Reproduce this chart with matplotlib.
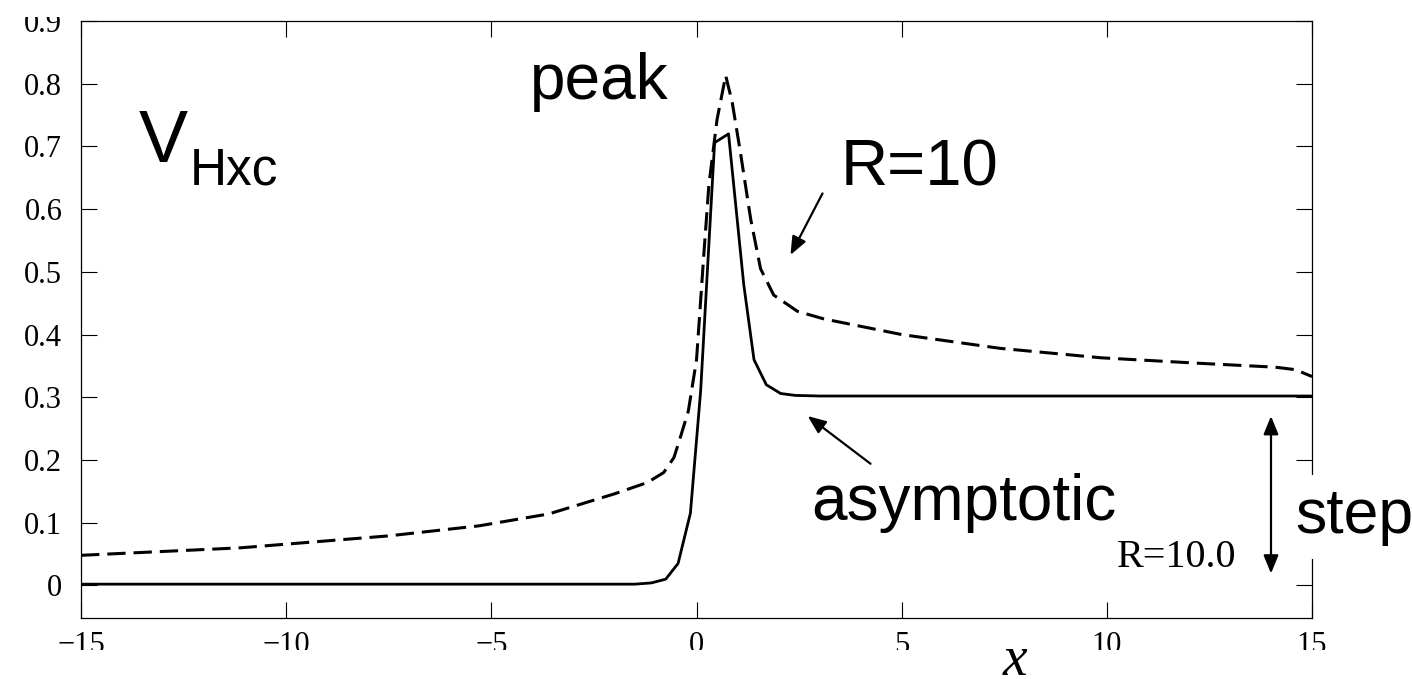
"""V_Hxc potential for R=10: exact curve vs. asymptotic approximation."""
import matplotlib
matplotlib.use("Agg")
import matplotlib.pyplot as plt
from matplotlib.patches import Rectangle

# dashed curve (labelled R=10 / peak)
x_peak = [-15, -11.1, -7.5, -5.3, -3.6, -2.0, -1.2, -0.8, -0.55, -0.4, -0.2, 0.0,
          0.18, 0.3, 0.5, 0.71, 0.87, 1.07, 1.32, 1.56, 1.88, 2.46, 3.1, 5.0,
          7.4, 9.85, 12.3, 14.1, 14.6, 15]
v_peak = [0.048, 0.060, 0.079, 0.095, 0.114, 0.146, 0.164, 0.18, 0.204, 0.235,
          0.278, 0.36, 0.53, 0.638, 0.743, 0.813, 0.77, 0.69, 0.584, 0.505,
          0.463, 0.437, 0.425, 0.40, 0.378, 0.363, 0.354, 0.348, 0.344, 0.333]

# solid curve (asymptotic)
x_asym = [-15, -1.5, -1.1, -0.75, -0.45, -0.15, 0.1, 0.44, 0.78, 1.15, 1.4,
          1.7, 2.05, 2.4, 3.0, 15]
v_asym = [0.002, 0.002, 0.004, 0.01, 0.035, 0.115, 0.31, 0.706, 0.72, 0.48,
          0.36, 0.32, 0.306, 0.303, 0.302, 0.302]

x_ticks = [-15, -10, -5, 0, 5, 10, 15]
y_ticks = [0, 0.1, 0.2, 0.3, 0.4, 0.5, 0.6, 0.7, 0.8, 0.9]

SANS = "Liberation Sans"
SERIF = "Liberation Serif"

fig = plt.figure(figsize=(14.12, 6.79), dpi=100)
ax = fig.add_axes([0.0574, 0.0898, 0.8718, 0.8793])

ax.plot(x_peak, v_peak, color="black", lw=2.2, ls=(0, (6, 2.6)))
ax.plot(x_asym, v_asym, color="black", lw=2.0)

ax.set_xlim(-15, 15)
ax.set_ylim(-0.052, 0.9)
ax.set_xticks(x_ticks)
ax.set_yticks(y_ticks)
ax.set_xticklabels([f"{t:d}".replace("-", "\u2212") for t in x_ticks],
                   fontfamily=SERIF, fontsize=22)
ax.set_yticklabels(["0"] + [f"{t:.1f}" for t in y_ticks[1:]],
                   fontfamily=SERIF, fontsize=22)
ax.tick_params(axis="both", direction="in", length=11.5, width=0.8,
               top=True, right=True)
ax.tick_params(axis="x", pad=9)
ax.tick_params(axis="y", pad=13.5)
for sp in ax.spines.values():
    sp.set_linewidth(0.9)

# annotations
ax.text(-13.6, 0.675, "V", fontfamily=SANS, fontsize=53)
ax.text(-12.34, 0.64, "Hxc", fontfamily=SANS, fontsize=37)
ax.text(-4.05, 0.775, "peak", fontfamily=SANS, fontsize=46)
ax.text(3.5, 0.638, "R=10", fontfamily=SANS, fontsize=47)
ax.text(2.8, 0.104, "asymptotic", fontfamily=SANS, fontsize=46)
ax.text(14.6, 0.083, "step", fontfamily=SANS, fontsize=45, clip_on=False,
        zorder=4, bbox=dict(facecolor="white", edgecolor="none", pad=9))
ax.text(10.25, 0.029, "R=10.0", fontfamily=SERIF, fontsize=29)

head = "head_length=1.1,head_width=0.45"
arrow = dict(arrowstyle="-|>," + head, color="black", lw=1.6,
             shrinkA=0, shrinkB=0)
ax.annotate("", xy=(2.29, 0.527), xytext=(3.07, 0.625), arrowprops=arrow)
ax.annotate("", xy=(2.71, 0.27), xytext=(4.24, 0.194), arrowprops=arrow)
ax.annotate("", xy=(14.0, 0.27), xytext=(14.0, 0.019),
            arrowprops=dict(arrowstyle="<|-|>," + head, color="black",
                            lw=1.6, shrinkA=0, shrinkB=0))

# the original figure is cropped at the top and bottom
fig.patches.append(Rectangle((0, 0), 1, 29 / 679, transform=fig.transFigure,
                             facecolor="white", edgecolor="none", zorder=5))
fig.patches.append(Rectangle((0, 1 - 17 / 679), 1, 17 / 679,
                             transform=fig.transFigure, facecolor="white",
                             edgecolor="none", zorder=5))
fig.text(1015 / 1412, 0.006, "x", fontfamily=SERIF, fontstyle="italic",
         fontsize=40, ha="center", va="baseline", zorder=10)

fig.savefig("out.png", dpi=100)
